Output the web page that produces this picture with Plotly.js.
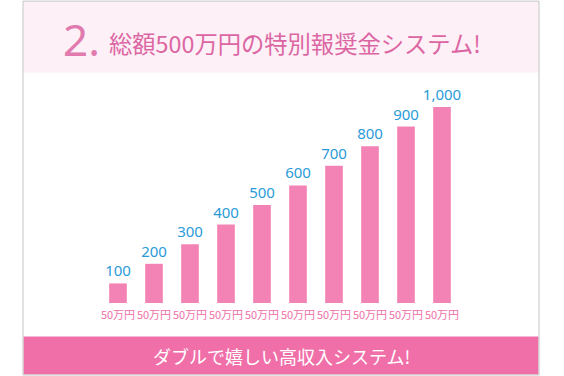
<!DOCTYPE html>
<html>
<head>
<meta charset="utf-8">
<script src="https://cdn.plot.ly/plotly-3.0.1.min.js"></script>
<style>html,body{margin:0;padding:0;background:#fff;}#chart{width:564px;height:376px;}</style>
</head>
<body>
<div id="chart"></div>
<script>
// ---- data ----
var categories = [1, 2, 3, 4, 5, 6, 7, 8, 9, 10];
var values = [100, 200, 300, 400, 500, 600, 700, 800, 900, 1000];
var tickLabels = ["50万円", "50万円", "50万円", "50万円", "50万円", "50万円", "50万円", "50万円", "50万円", "50万円"];
var titleNumber = "2.";
var titleText = "総額500万円の特別報奨金システム!";
var footerText = "ダブルで嬉しい高収入システム!";

// ---- layout helpers (pixel -> paper) ----
var Wd = 564, Ht = 376;
var mL = 100, mR = 104, mT = 106.7, mB = 72.7;
var PW = Wd - mL - mR, PH = Ht - mT - mB;
function fx(px) { return (px - mL) / PW; }
function fy(py) { return (Ht - mB - py) / PH; }

var jp = '"Noto Sans CJK JP", "Noto Sans", sans-serif';

var trace = {
  type: 'bar',
  x: categories,
  y: values,
  text: values.map(function (v) { return v.toLocaleString('en-US'); }),
  textposition: 'outside',
  constraintext: 'none',
  textfont: { family: '"Noto Sans", sans-serif', size: 15, color: '#2a9bd8' },
  cliponaxis: false,
  marker: { color: '#f383b5', line: { width: 0 } },
  hoverinfo: 'none'
};

var layout = {
  width: Wd, height: Ht,
  margin: { l: mL, r: mR, t: mT, b: mB, pad: 0 },
  paper_bgcolor: '#ffffff',
  plot_bgcolor: 'rgba(0,0,0,0)',
  showlegend: false,
  bargap: 0.51,
  xaxis: {
    range: [0.5, 10.5],
    tickvals: categories,
    ticktext: tickLabels,
    tickangle: 0,
    ticklabelstandoff: 4,
    tickfont: { family: jp, size: 11, color: '#f06ea8' },
    showgrid: false, zeroline: false, showline: false, ticks: '',
    fixedrange: true
  },
  yaxis: {
    range: [0, 1000],
    visible: false, showgrid: false, zeroline: false,
    fixedrange: true
  },
  shapes: [
    // header band
    { type: 'rect', xref: 'paper', yref: 'paper', layer: 'below',
      x0: fx(23.5), x1: fx(538.5), y0: fy(1), y1: fy(72),
      fillcolor: '#fdf0f6', line: { width: 0 } },
    // footer band
    { type: 'rect', xref: 'paper', yref: 'paper', layer: 'below',
      x0: fx(23.5), x1: fx(538.5), y0: fy(337), y1: fy(375),
      fillcolor: '#f06fa9', line: { width: 0 } },
    // frame
    { type: 'rect', xref: 'paper', yref: 'paper', layer: 'above',
      x0: fx(23), x1: fx(539), y0: fy(0.5), y1: fy(375.5),
      fillcolor: 'rgba(0,0,0,0)', line: { color: '#c4c4c4', width: 1 } }
  ],
  annotations: [
    { xref: 'paper', yref: 'paper', x: fx(61), y: fy(38), xanchor: 'left', yanchor: 'middle',
      text: titleNumber, showarrow: false,
      font: { family: '"Noto Sans", sans-serif', size: 44, color: '#e07aaf' } },
    { xref: 'paper', yref: 'paper', x: fx(107), y: fy(43), xanchor: 'left', yanchor: 'middle',
      text: titleText, showarrow: false,
      font: { family: jp, size: 23.3, color: '#dc66a3' } },
    { xref: 'paper', yref: 'paper', x: fx(281.5), y: fy(356), xanchor: 'center', yanchor: 'middle',
      text: footerText, showarrow: false,
      font: { family: jp, size: 18, color: '#ffffff' } }
  ]
};

Plotly.newPlot('chart', [trace], layout, { displayModeBar: false, staticPlot: true });
</script>
</body>
</html>
